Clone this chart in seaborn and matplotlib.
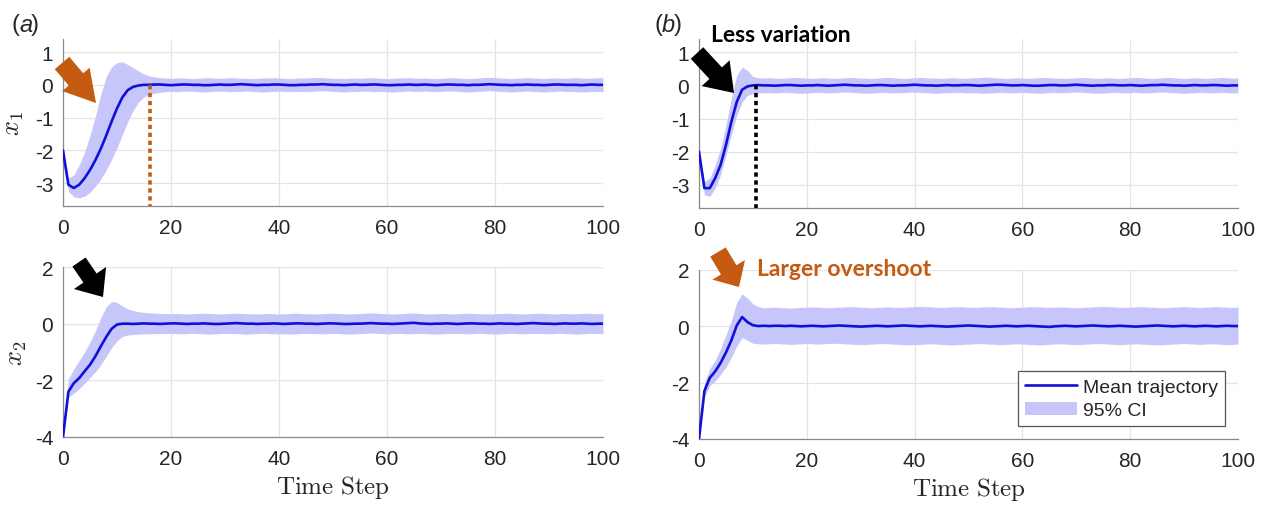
import numpy as np
import pandas as pd
import matplotlib
matplotlib.use("Agg")
import matplotlib.pyplot as plt
import matplotlib.patches as mpatches
import seaborn as sns

# ---------------- data (t = 0..100) ----------------
time_steps = list(range(101))

A1_mean = [-2.00, -3.05, -3.15, -3.05, -2.85, -2.60, -2.30, -1.95, -1.55, -1.12,
           -0.72, -0.38, -0.16, -0.06, -0.02, 0.00, 0.00, 0.01, 0.01, 0.00,
           -0.01, 0.00, 0.01, 0.01, 0.00, 0.00, -0.01, -0.01, 0.00, 0.01,
           0.00, 0.00, 0.01, 0.02, 0.01, 0.00, -0.01, 0.00, 0.00, 0.01,
           0.01, 0.00, -0.01, -0.01, 0.00, 0.00, 0.01, 0.01, 0.02, 0.01,
           0.00, 0.00, -0.01, 0.00, 0.01, 0.00, 0.00, 0.01, 0.01, 0.00,
           -0.01, -0.01, 0.00, 0.00, 0.01, 0.00, 0.00, 0.01, 0.00, -0.01,
           0.00, 0.01, 0.01, 0.00, 0.00, -0.01, 0.00, 0.00, 0.01, 0.02,
           0.01, 0.00, 0.00, -0.01, 0.00, 0.00, 0.01, 0.00, 0.00, -0.01,
           0.00, 0.01, 0.01, 0.00, 0.00, 0.00, -0.01, 0.00, 0.01, 0.00,
           0.00]
A1_lo = [-2.00, -3.25, -3.42, -3.45, -3.40, -3.28, -3.10, -2.88, -2.60, -2.28,
         -1.92, -1.52, -1.12, -0.78, -0.52, -0.37, -0.29, -0.25, -0.23, -0.21,
         -0.20, -0.21, -0.20, -0.19, -0.20, -0.21, -0.22, -0.21, -0.20, -0.19,
         -0.20, -0.21, -0.20, -0.20, -0.19, -0.20, -0.21, -0.22, -0.21, -0.20,
         -0.19, -0.20, -0.21, -0.20, -0.20, -0.21, -0.20, -0.19, -0.18, -0.19,
         -0.20, -0.21, -0.22, -0.21, -0.20, -0.20, -0.19, -0.20, -0.21, -0.20,
         -0.21, -0.22, -0.21, -0.20, -0.19, -0.20, -0.20, -0.19, -0.20, -0.21,
         -0.20, -0.19, -0.19, -0.20, -0.21, -0.22, -0.21, -0.20, -0.19, -0.18,
         -0.19, -0.20, -0.21, -0.22, -0.21, -0.20, -0.19, -0.20, -0.21, -0.22,
         -0.21, -0.20, -0.19, -0.20, -0.20, -0.21, -0.22, -0.21, -0.20, -0.20,
         -0.21]
A1_hi = [-2.00, -2.85, -2.75, -2.45, -2.05, -1.55, -0.95, -0.30, 0.25, 0.55,
         0.68, 0.70, 0.62, 0.52, 0.42, 0.33, 0.27, 0.24, 0.22, 0.21,
         0.20, 0.21, 0.21, 0.20, 0.19, 0.20, 0.21, 0.22, 0.21, 0.20,
         0.21, 0.22, 0.21, 0.20, 0.20, 0.19, 0.20, 0.21, 0.21, 0.22,
         0.21, 0.20, 0.19, 0.20, 0.21, 0.21, 0.22, 0.23, 0.22, 0.21,
         0.20, 0.20, 0.19, 0.20, 0.21, 0.20, 0.21, 0.22, 0.21, 0.20,
         0.19, 0.20, 0.21, 0.21, 0.22, 0.21, 0.20, 0.21, 0.20, 0.19,
         0.20, 0.21, 0.22, 0.21, 0.20, 0.19, 0.20, 0.21, 0.22, 0.23,
         0.22, 0.21, 0.20, 0.19, 0.20, 0.21, 0.22, 0.21, 0.20, 0.19,
         0.20, 0.21, 0.21, 0.20, 0.21, 0.22, 0.21, 0.20, 0.21, 0.22,
         0.21]

A2_mean = [-4.00, -2.40, -2.10, -1.92, -1.68, -1.45, -1.15, -0.80, -0.47, -0.18,
           -0.03, 0.00, 0.00, -0.01, 0.00, 0.01, 0.00, 0.00, -0.01, 0.00,
           0.01, 0.01, 0.00, -0.01, 0.00, 0.00, 0.01, 0.00, -0.01, -0.01,
           0.00, 0.01, 0.02, 0.01, 0.00, 0.00, -0.01, 0.00, 0.00, 0.01,
           0.00, -0.01, 0.00, 0.01, 0.01, 0.00, 0.00, -0.01, 0.00, 0.01,
           0.01, 0.00, -0.01, -0.01, 0.00, 0.00, 0.01, 0.02, 0.01, 0.00,
           0.00, -0.01, 0.00, 0.01, 0.02, 0.03, 0.01, 0.00, -0.01, 0.00,
           0.00, 0.01, 0.00, -0.01, 0.00, 0.01, 0.01, 0.00, 0.00, -0.01,
           0.00, 0.01, 0.00, 0.00, -0.01, 0.00, 0.01, 0.02, 0.01, 0.00,
           0.00, -0.01, 0.00, 0.01, 0.00, 0.00, 0.01, 0.00, -0.01, 0.00,
           0.00]
A2_lo = [-4.00, -2.60, -2.45, -2.30, -2.10, -1.90, -1.70, -1.45, -1.15, -0.85,
         -0.60, -0.45, -0.40, -0.38, -0.37, -0.36, -0.36, -0.35, -0.35, -0.35,
         -0.34, -0.35, -0.36, -0.35, -0.34, -0.35, -0.36, -0.37, -0.36, -0.35,
         -0.34, -0.35, -0.35, -0.36, -0.37, -0.36, -0.35, -0.34, -0.35, -0.36,
         -0.35, -0.36, -0.37, -0.36, -0.35, -0.34, -0.35, -0.35, -0.36, -0.35,
         -0.34, -0.35, -0.36, -0.37, -0.36, -0.35, -0.34, -0.33, -0.34, -0.35,
         -0.36, -0.35, -0.34, -0.35, -0.36, -0.35, -0.34, -0.35, -0.36, -0.37,
         -0.36, -0.35, -0.35, -0.34, -0.35, -0.36, -0.35, -0.34, -0.35, -0.36,
         -0.37, -0.36, -0.35, -0.34, -0.35, -0.36, -0.35, -0.34, -0.35, -0.35,
         -0.36, -0.35, -0.34, -0.35, -0.36, -0.37, -0.36, -0.35, -0.34, -0.35,
         -0.35]
A2_hi = [-4.00, -1.95, -1.60, -1.30, -1.00, -0.65, -0.25, 0.20, 0.60, 0.78,
         0.75, 0.62, 0.52, 0.46, 0.42, 0.40, 0.38, 0.37, 0.36, 0.36,
         0.35, 0.36, 0.35, 0.34, 0.35, 0.36, 0.37, 0.36, 0.35, 0.34,
         0.35, 0.36, 0.37, 0.36, 0.35, 0.35, 0.34, 0.35, 0.36, 0.35,
         0.34, 0.35, 0.36, 0.37, 0.36, 0.35, 0.35, 0.34, 0.35, 0.36,
         0.37, 0.36, 0.35, 0.34, 0.35, 0.36, 0.37, 0.38, 0.37, 0.36,
         0.35, 0.34, 0.35, 0.36, 0.37, 0.38, 0.36, 0.35, 0.34, 0.35,
         0.36, 0.35, 0.34, 0.35, 0.36, 0.37, 0.36, 0.35, 0.35, 0.34,
         0.35, 0.36, 0.37, 0.36, 0.35, 0.34, 0.35, 0.36, 0.37, 0.36,
         0.35, 0.34, 0.35, 0.36, 0.35, 0.35, 0.36, 0.37, 0.36, 0.35,
         0.35]

B1_mean = [-2.00, -3.10, -3.10, -2.80, -2.40, -1.80, -1.10, -0.50, -0.13, -0.03,
           0.00, 0.01, 0.00, 0.00, -0.01, 0.00, 0.01, 0.01, 0.00, -0.01,
           0.00, 0.00, 0.01, 0.00, -0.01, 0.00, 0.01, 0.02, 0.01, 0.00,
           0.00, -0.01, 0.00, 0.01, 0.01, 0.00, -0.01, 0.00, 0.00, 0.01,
           0.02, 0.01, 0.00, 0.00, -0.01, 0.00, 0.01, 0.00, 0.00, 0.01,
           0.01, 0.00, -0.01, 0.00, 0.01, 0.02, 0.02, 0.01, 0.00, 0.00,
           0.01, 0.00, -0.01, -0.01, 0.00, 0.01, 0.01, 0.00, 0.00, 0.01,
           0.02, 0.01, 0.00, -0.01, 0.00, 0.00, 0.01, 0.01, 0.00, 0.00,
           0.01, 0.00, -0.01, 0.00, 0.01, 0.01, 0.02, 0.01, 0.00, 0.00,
           -0.01, 0.00, 0.01, 0.00, 0.00, 0.01, 0.01, 0.00, -0.01, 0.00,
           0.00]
B1_lo = [-2.00, -3.30, -3.35, -3.10, -2.70, -2.10, -1.50, -0.90, -0.50, -0.30,
         -0.25, -0.23, -0.22, -0.22, -0.23, -0.22, -0.21, -0.22, -0.23, -0.24,
         -0.23, -0.22, -0.21, -0.22, -0.23, -0.22, -0.21, -0.20, -0.21, -0.22,
         -0.23, -0.24, -0.23, -0.22, -0.21, -0.22, -0.23, -0.22, -0.22, -0.21,
         -0.20, -0.21, -0.22, -0.23, -0.24, -0.23, -0.22, -0.22, -0.21, -0.22,
         -0.23, -0.22, -0.23, -0.24, -0.23, -0.22, -0.21, -0.22, -0.23, -0.22,
         -0.21, -0.22, -0.23, -0.24, -0.23, -0.22, -0.21, -0.22, -0.22, -0.21,
         -0.20, -0.21, -0.22, -0.23, -0.24, -0.23, -0.22, -0.21, -0.22, -0.23,
         -0.22, -0.21, -0.22, -0.23, -0.22, -0.21, -0.20, -0.21, -0.22, -0.23,
         -0.24, -0.23, -0.22, -0.21, -0.22, -0.23, -0.22, -0.21, -0.22, -0.23,
         -0.22]
B1_hi = [-2.00, -2.90, -2.80, -2.40, -1.90, -1.20, -0.40, 0.30, 0.55, 0.45,
         0.27, 0.23, 0.22, 0.23, 0.22, 0.21, 0.22, 0.23, 0.24, 0.23,
         0.22, 0.21, 0.22, 0.23, 0.22, 0.21, 0.22, 0.23, 0.24, 0.23,
         0.22, 0.22, 0.21, 0.22, 0.23, 0.24, 0.23, 0.22, 0.21, 0.22,
         0.23, 0.24, 0.23, 0.22, 0.22, 0.21, 0.22, 0.23, 0.22, 0.21,
         0.22, 0.23, 0.24, 0.25, 0.24, 0.23, 0.22, 0.21, 0.22, 0.23,
         0.22, 0.21, 0.22, 0.23, 0.24, 0.23, 0.22, 0.22, 0.21, 0.22,
         0.23, 0.24, 0.23, 0.22, 0.21, 0.22, 0.23, 0.22, 0.21, 0.22,
         0.23, 0.24, 0.23, 0.22, 0.21, 0.22, 0.23, 0.24, 0.23, 0.22,
         0.21, 0.22, 0.23, 0.22, 0.21, 0.22, 0.23, 0.24, 0.23, 0.22,
         0.22]

B2_mean = [-4.00, -2.30, -1.83, -1.60, -1.30, -0.93, -0.50, 0.03, 0.33, 0.15,
           0.04, 0.01, 0.02, 0.01, 0.02, 0.02, 0.01, 0.02, 0.01, 0.00,
           0.01, 0.02, 0.01, 0.00, 0.01, 0.02, 0.03, 0.02, 0.01, 0.00,
           -0.01, 0.00, 0.01, 0.02, 0.01, 0.00, 0.01, 0.02, 0.03, 0.02,
           0.01, 0.00, 0.01, 0.02, 0.01, 0.00, -0.01, 0.00, 0.01, 0.02,
           0.03, 0.02, 0.01, 0.00, -0.01, 0.00, 0.01, 0.02, 0.01, 0.00,
           0.01, 0.02, 0.01, 0.00, -0.01, -0.02, 0.00, 0.01, 0.02, 0.01,
           0.00, 0.01, 0.02, 0.03, 0.02, 0.01, 0.00, 0.01, 0.02, 0.01,
           0.00, -0.01, 0.00, 0.01, 0.02, 0.03, 0.02, 0.01, 0.00, 0.01,
           0.02, 0.01, 0.00, 0.01, 0.02, 0.01, 0.00, 0.01, 0.02, 0.01,
           0.01]
B2_lo = [-4.00, -2.50, -2.10, -1.95, -1.70, -1.45, -1.10, -0.70, -0.40, -0.50,
         -0.60, -0.62, -0.63, -0.62, -0.61, -0.62, -0.63, -0.64, -0.63, -0.62,
         -0.61, -0.62, -0.63, -0.62, -0.61, -0.60, -0.61, -0.62, -0.63, -0.64,
         -0.65, -0.64, -0.63, -0.62, -0.61, -0.62, -0.63, -0.64, -0.65, -0.66,
         -0.65, -0.64, -0.63, -0.62, -0.63, -0.64, -0.65, -0.66, -0.65, -0.64,
         -0.63, -0.62, -0.61, -0.62, -0.63, -0.64, -0.65, -0.64, -0.63, -0.62,
         -0.63, -0.64, -0.65, -0.66, -0.65, -0.64, -0.63, -0.62, -0.63, -0.64,
         -0.65, -0.64, -0.63, -0.62, -0.61, -0.62, -0.63, -0.64, -0.65, -0.64,
         -0.63, -0.62, -0.63, -0.64, -0.65, -0.66, -0.65, -0.64, -0.63, -0.62,
         -0.61, -0.62, -0.63, -0.64, -0.63, -0.62, -0.63, -0.64, -0.65, -0.64,
         -0.63]
B2_hi = [-4.00, -2.00, -1.50, -1.20, -0.80, -0.30, 0.20, 0.85, 1.15, 1.00,
         0.80, 0.70, 0.66, 0.67, 0.68, 0.67, 0.66, 0.65, 0.66, 0.67,
         0.68, 0.69, 0.68, 0.67, 0.66, 0.67, 0.68, 0.69, 0.70, 0.69,
         0.68, 0.67, 0.66, 0.67, 0.68, 0.69, 0.68, 0.67, 0.68, 0.69,
         0.70, 0.71, 0.70, 0.69, 0.68, 0.67, 0.68, 0.69, 0.70, 0.69,
         0.68, 0.67, 0.68, 0.69, 0.70, 0.69, 0.68, 0.67, 0.66, 0.67,
         0.68, 0.69, 0.70, 0.69, 0.68, 0.67, 0.68, 0.69, 0.68, 0.67,
         0.66, 0.67, 0.68, 0.69, 0.70, 0.71, 0.70, 0.69, 0.68, 0.67,
         0.68, 0.69, 0.70, 0.69, 0.68, 0.67, 0.66, 0.67, 0.68, 0.69,
         0.70, 0.69, 0.68, 0.67, 0.68, 0.69, 0.70, 0.69, 0.68, 0.67,
         0.68]

settle_a = 16.1
settle_b = 10.6

x_ticks = [0, 20, 40, 60, 80, 100]
y_ticks_x1 = [-3, -2, -1, 0, 1]
y_ticks_x2 = [-4, -2, 0, 2]

# ---------------- style ----------------
sns.set_style("white")
plt.rcParams["font.family"] = ["Liberation Sans", "DejaVu Sans"]
plt.rcParams["mathtext.fontset"] = "cm"
plt.rcParams["axes.unicode_minus"] = False

LINE = "#1010d8"
BAND = "#c6c6fb"
ORANGE = "#c55a11"
GRID = "#e4e4e4"
SPINE = "#8a8a8a"
TXT = "#262626"

W, H = 1261, 506
fig = plt.figure(figsize=(W / 100, H / 100), dpi=100)


def px_axes(x0, x1, ytop, ybot):
    return fig.add_axes([x0 / W, 1 - ybot / H, (x1 - x0) / W, (ybot - ytop) / H])


ax_a1 = px_axes(63, 603, 40, 207)
ax_a2 = px_axes(63, 603, 268, 438)
ax_b1 = px_axes(699, 1238, 40, 209)
ax_b2 = px_axes(699, 1238, 271, 440)

panels = [
    (ax_a1, A1_mean, A1_lo, A1_hi, (-3.7, 1.4), y_ticks_x1),
    (ax_a2, A2_mean, A2_lo, A2_hi, (-4, 2), y_ticks_x2),
    (ax_b1, B1_mean, B1_lo, B1_hi, (-3.7, 1.4), y_ticks_x1),
    (ax_b2, B2_mean, B2_lo, B2_hi, (-4, 2), y_ticks_x2),
]

for ax, m, lo, hi, ylim, yt in panels:
    df = pd.DataFrame({"t": time_steps, "mean": m, "lo": lo, "hi": hi})
    ax.fill_between(df["t"], df["lo"], df["hi"], color=BAND, lw=0,
                    label="95% CI", zorder=1)
    sns.lineplot(data=df, x="t", y="mean", ax=ax, color=LINE, lw=1.9,
                 label="Mean trajectory", zorder=3, legend=False)
    ax.set_xlim(0, 100)
    ax.set_ylim(*ylim)
    ax.set_xticks(x_ticks)
    ax.set_yticks(yt)
    ax.grid(True, color=GRID, lw=0.9, zorder=0)
    ax.set_axisbelow(True)
    for s in ["top", "right"]:
        ax.spines[s].set_visible(False)
    for s in ["left", "bottom"]:
        ax.spines[s].set_color(SPINE)
        ax.spines[s].set_linewidth(0.9)
    ax.tick_params(axis="both", labelsize=15, labelcolor=TXT, length=3,
                   direction="in", width=0.8, color=SPINE)
    ax.tick_params(axis="x", pad=9)
    ax.tick_params(axis="y", pad=7)
    ax.set_xlabel("")
    ax.set_ylabel("")

# settling-time dotted lines
ax_a1.plot([settle_a, settle_a], [0, -3.7], ls=(0, (1.2, 1.0)), lw=2.6,
           color=ORANGE, zorder=4)
ax_b1.plot([settle_b, settle_b], [0, -3.7], ls=(0, (1.2, 1.0)), lw=2.6,
           color="black", zorder=4)

# axis labels
ax_a1.set_ylabel("$x_1$", fontsize=19, labelpad=6)
ax_a2.set_ylabel("$x_2$", fontsize=19, labelpad=4)
ax_a2.set_xlabel(r"$\mathrm{Time\ Step}$", fontsize=18, labelpad=3)
ax_b2.set_xlabel(r"$\mathrm{Time\ Step}$", fontsize=18, labelpad=3)

# legend
handles, labels = ax_b2.get_legend_handles_labels()
order = [labels.index("Mean trajectory"), labels.index("95% CI")]
leg = ax_b2.legend([handles[i] for i in order], [labels[i] for i in order],
                   loc="lower right", bbox_to_anchor=(0.976, 0.077),
                   fontsize=14, frameon=True, fancybox=False,
                   edgecolor="#555555", framealpha=1, borderpad=0.35,
                   handlelength=2.7, handletextpad=0.3, labelspacing=0.3,
                   borderaxespad=0)
leg.get_frame().set_linewidth(0.9)

# panel tags
for xx, letter in [(12, "a"), (655, "b")]:
    fig.text(xx / W, 1 - 25 / H, "(", fontsize=17, color=TXT, va="center")
    fig.text((xx + 7) / W, 1 - 25 / H, letter, fontsize=17, color=TXT,
             va="center", style="italic")
    fig.text((xx + 19) / W, 1 - 25 / H, ")", fontsize=17, color=TXT, va="center")

# annotation texts
fig.text(711 / W, 1 - 35 / H, "Less variation", fontsize=16.5,
         fontweight="bold", family=["Lato", "DejaVu Sans"], color="black",
         va="center", ha="left")
fig.text(757 / W, 1 - 270 / H, "Larger overshoot", fontsize=16.5,
         fontweight="bold", family=["Lato", "DejaVu Sans"], color=ORANGE,
         va="center", ha="left")


# block arrows (figure pixel coords, y measured from top); sizes in units of 10 px
def block_arrow(x0, y0, x1, y1, color, tail, hw, hl):
    fig.patches.append(mpatches.FancyArrowPatch(
        (x0 / W, 1 - y0 / H), (x1 / W, 1 - y1 / H),
        transform=fig.transFigure,
        arrowstyle=f"simple,head_width={hw},head_length={hl},tail_width={tail}",
        mutation_scale=7.2, shrinkA=0, shrinkB=0, color=color, lw=0,
        zorder=10))


block_arrow(62, 64, 96, 104, ORANGE, 1.9, 3.6, 3.1)
block_arrow(79, 263, 103, 298, "black", 1.6, 3.9, 2.3)
block_arrow(697, 54, 734, 94, "black", 1.7, 3.8, 2.7)
block_arrow(718, 253, 739, 288, ORANGE, 1.8, 3.8, 2.0)

fig.savefig("out.png", dpi=100)
